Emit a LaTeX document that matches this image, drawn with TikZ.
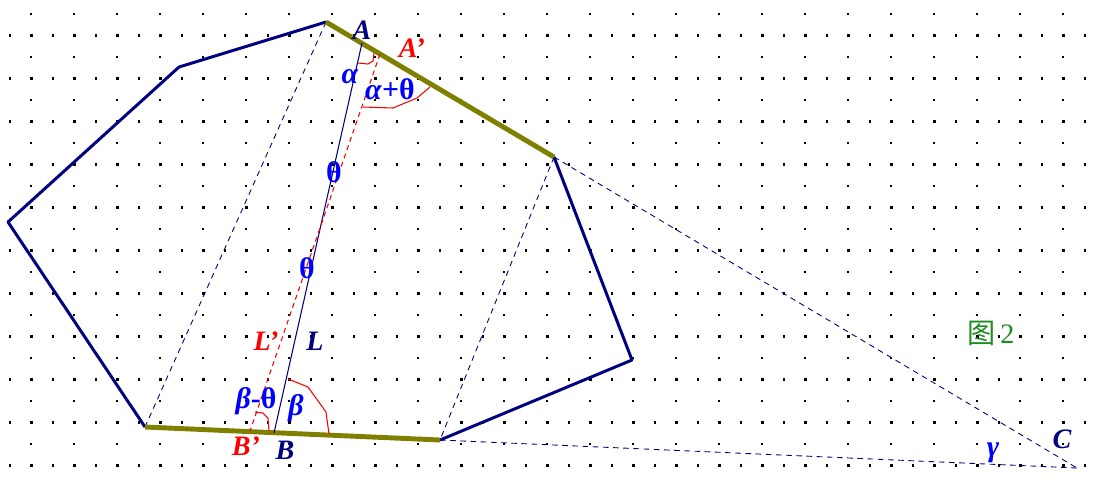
\documentclass[tikz,border=0pt]{standalone}
\usepackage{fontspec}
\setmainfont{Liberation Serif}
\newfontfamily\cjkfont{Noto Sans CJK SC}
\usetikzlibrary{calc}
\definecolor{FigNavy}{HTML}{000080}
\definecolor{FigOlive}{HTML}{808000}
\definecolor{FigRed}{HTML}{FF0000}
\definecolor{FigBlue}{HTML}{0000FF}
\definecolor{FigGreen}{HTML}{1E8C1E}
\tikzset{
    % Edge styles
    polyedge/.style={
        draw=FigNavy,
        line width=1.7pt,
        line join=round
    },
    olivedge/.style={
        draw=FigOlive,
        line width=2.8pt
    },
    chord/.style={
        draw=FigNavy,
        line width=0.5pt,
        dash pattern=on 3.2pt off 2.6pt
    },
    axisline/.style={
        draw=FigNavy,
        line width=0.6pt
    },
    redaxis/.style={
        draw=FigRed,
        line width=0.6pt,
        dash pattern=on 2.8pt off 2.2pt
    },
    anglemark/.style={
        draw=FigRed,
        line width=0.6pt
    },
    % Label styles
    lbl/.style={
        inner sep=0pt,
        font=\fontsize{16}{18}\selectfont\bfseries
    },
    navylbl/.style={lbl, text=FigNavy, font=\fontsize{16}{18}\selectfont\bfseries\itshape},
    redlbl/.style={lbl, text=FigRed, font=\fontsize{16}{18}\selectfont\bfseries\itshape},
    bluelbl/.style={lbl, text=FigBlue},
    greeklbl/.style={lbl, text=FigBlue, font=\fontsize{17}{19}\selectfont\bfseries\itshape}
}

\begin{document}
\begin{tikzpicture}[x=0.02cm, y=-0.02cm]
    \useasboundingbox (0,0) rectangle (1099,485);

    % dot grid
    \foreach \j in {1,3,...,21} {
        \foreach \i in {0,...,50} {
            \fill ($(10+21.5*\i,14+21.5*\j)$) +(-0.8pt,-0.8pt) rectangle +(0.8pt,0.8pt);
        }
    }
    \foreach \j in {0,2,...,20} {
        \foreach \i in {0,...,24} {
            \fill ($(31+43*\i,14+21.5*\j)$) +(-0.8pt,-0.8pt) rectangle +(0.8pt,0.8pt);
        }
    }

    % polygon vertices
    \coordinate (pA) at (326,22);
    \coordinate (p2) at (179,67);
    \coordinate (p3) at (8,222);
    \coordinate (p4) at (145,427);
    \coordinate (p5) at (440,440);
    \coordinate (p6) at (632,360);
    \coordinate (p7) at (554,157);
    \coordinate (pC) at (1077,468);

    % points on the support lines
    \coordinate (A) at (362,43);
    \coordinate (Ap) at (380,54);
    \coordinate (B) at (274,433);
    \coordinate (Bp) at (250,431);

    % dashed chords
    \draw[chord] (pA) -- (p4);
    \draw[chord] (p7) -- (p5);
    \draw[chord] (p7) -- (pC);
    \draw[chord] (p5) -- (pC);

    % polygon
    \draw[polyedge] (pA) -- (p2) -- (p3) -- (p4);
    \draw[polyedge] (p5) -- (p6) -- (p7);
    \draw[olivedge] (pA) -- (p7);
    \draw[olivedge] (p4) -- (p5);

    % the two lines
    \draw[axisline] (A) -- (B);
    \draw[redaxis] (Ap) -- (Bp);

    % angle marks
    \draw[anglemark] (358,63) -- (368,64) -- (373,61) -- (374,53);
    \draw[anglemark] (363,107) -- (393,108) -- (417,98) -- (430,87);
    \draw[anglemark] (288,379) -- (308,387) -- (326,412) -- (329,434);
    \draw[anglemark] (255,412) -- (263,413) -- (268,418) -- (269,431);

    % labels
    \node[navylbl] (lA) at (362,30) {A};
    \node[redlbl] (lAp) at (412,48) {A’};
    \node[greeklbl] (lalpha) at (350,77) {α};
    \node[bluelbl, font=\fontsize{17}{19}\selectfont\bfseries] (lalphatheta) at (390,89) {\textit{α}+θ};
    \node[bluelbl, font=\fontsize{17}{19}\selectfont\bfseries] (ltheta1) at (334,172) {θ};
    \node[bluelbl, font=\fontsize{17}{19}\selectfont\bfseries] (ltheta2) at (307,268) {θ};
    \node[redlbl] (lLp) at (266,341) {L’};
    \node[navylbl] (lL) at (315,341) {L};
    \node[bluelbl, font=\fontsize{17}{19}\selectfont\bfseries] (lbetatheta) at (256,401) {\textit{β}-θ};
    \node[greeklbl] (lbeta) at (296,408) {β};
    \node[redlbl] (lBp) at (246,446) {B’};
    \node[navylbl] (lB) at (285,450) {B};
    \node[greeklbl] (lgamma) at (993,453) {γ};
    \node[navylbl] (lC) at (1062,439) {C};
    \node[lbl, text=FigGreen, font=\fontsize{16}{18}\selectfont] (lfig) at (991,333) {{\cjkfont 图}\,2};
\end{tikzpicture}
\end{document}
